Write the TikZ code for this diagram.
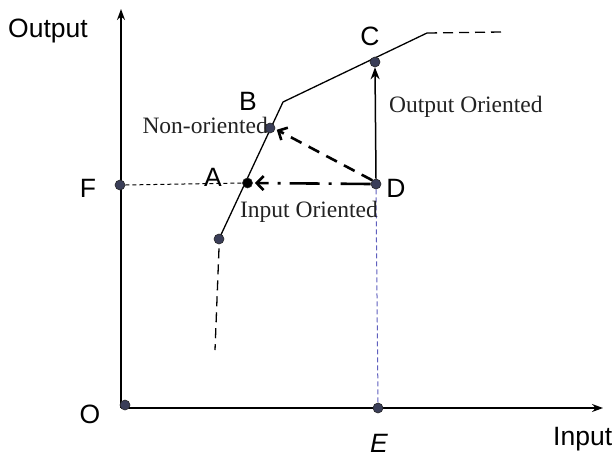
\documentclass[tikz,border=0pt]{standalone}
\usepackage{fontspec}
\setmainfont{Liberation Serif}
\setsansfont{Liberation Sans}
\usetikzlibrary{arrows.meta}
\definecolor{dotc}{RGB}{58,62,88}
\definecolor{bluel}{RGB}{96,96,190}
\definecolor{txtc}{RGB}{34,34,34}
\pgfdeclarelayer{bg}
\pgfsetlayers{bg,main}
\begin{document}
\begin{tikzpicture}[x=1pt,y=-1pt,
  dot/.style={circle,fill=dotc,draw=black!85,line width=0.6pt,inner sep=0pt,minimum size=10pt},
  lab/.style={font=\sffamily\fontsize{26.5}{26.5}\selectfont,inner sep=0pt},
  txt/.style={font=\fontsize{23.5}{23.5}\selectfont,inner sep=0pt,text=txtc},
  axis/.style={line width=1.5pt,-{Stealth[length=11pt,width=8pt]}},
  front/.style={line width=1.3pt},
  frontdash/.style={line width=1.3pt,dash pattern=on 10pt off 6pt},
  thindash/.style={line width=1pt,dash pattern=on 4pt off 3pt},
  bluedash/.style={line width=1pt,bluel,dash pattern=on 5pt off 3pt},
  nonor/.style={line width=2.6pt,dash pattern=on 12pt off 8pt,-{Straight Barb[length=7pt,width=14pt,line width=2.6pt]}},
  inor/.style={line width=2.6pt,dash pattern=on 30pt off 9pt on 3pt off 9pt,-{Straight Barb[length=7pt,width=14pt,line width=2.6pt]}},
  outor/.style={line width=1.5pt,-{Stealth[length=12pt,width=9pt]}}]
\useasboundingbox (0,0) rectangle (615,459);
% points
\coordinate (org) at (121,408);
\coordinate (ytop) at (121,9);
\coordinate (xend) at (603,408);
\coordinate (Bk) at (283,102);
\coordinate (Ck) at (427,33);
\coordinate (Rend) at (501,32);
\coordinate (Lend) at (215,350);
\node[dot] (O) at (125,405) {};
\node[dot] (E) at (378,408) {};
\node[dot] (F) at (120,185) {};
\node[dot,fill=black] (A) at (247.5,183) {};
\node[dot] (D) at (376,184) {};
\node[dot] (C) at (375,62) {};
\node[dot] (N) at (270,128) {};
\node[dot] (L) at (219,239) {};
% lines
\begin{pgfonlayer}{bg}
\draw[axis] (org) -- (ytop);
\draw[axis] (org) -- (xend);
\draw[front] (L.center) -- (Bk) -- (Ck);
\draw[frontdash] (L.south) ++(0,4) -- (Lend);
\draw[frontdash] (Ck) -- (Rend);
\draw[thindash] (F.east) -- (A.west);
\draw[bluedash] (D.south) -- (E.north);
\end{pgfonlayer}
\draw[inor] (D.west) -- ([xshift=2pt]A.east);
\draw[nonor] (D.north west) -- ([shift={(3pt,2pt)}]N.south east);
\draw[outor] (D.north) -- (C.south);
% labels
\node[lab,anchor=base west] (tOut) at (8,37) {Output};
\node[lab,anchor=base west] (tIn) at (553,445) {Input};
\node[lab] (tO) at (90,414) {O};
\node[lab,font=\sffamily\itshape\fontsize{26.5}{26.5}\selectfont] (tE) at (379,443) {E};
\node[lab] (tF) at (88,188) {F};
\node[lab] (tA) at (213,177) {A};
\node[lab] (tB) at (248,101) {B};
\node[lab] (tC) at (370,36) {C};
\node[lab] (tD) at (396,188) {D};
\node[txt,anchor=base west] (tOO) at (389,112) {Output Oriented};
\node[txt,anchor=base east] (tNO) at (268,133) {Non-oriented};
\node[txt,anchor=base east] (tIO) at (378,217) {Input Oriented};
\end{tikzpicture}
\end{document}
